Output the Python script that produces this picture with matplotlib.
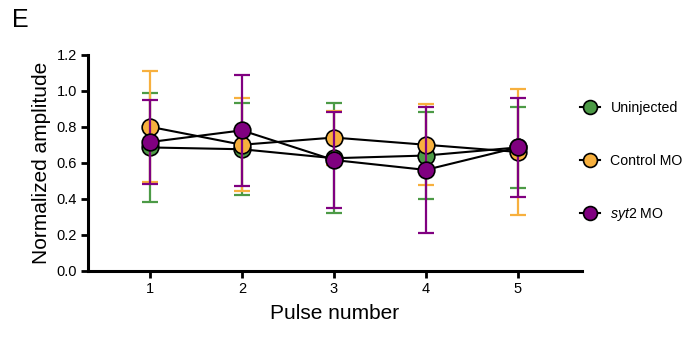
import matplotlib
matplotlib.use("Agg")
import matplotlib.pyplot as plt
from matplotlib.lines import Line2D
import numpy as np

plt.rcParams["font.family"] = ["Liberation Sans", "DejaVu Sans"]
plt.rcParams["mathtext.fontset"] = "custom"
plt.rcParams["mathtext.it"] = "Liberation Sans:italic"
plt.rcParams["mathtext.rm"] = "Liberation Sans"

pulses = [1, 2, 3, 4, 5]
groups = ["Uninjected", "Control MO", r"$\it{syt2}$ MO"]
colors = ["#4c9a46", "#f7b03e", "#800080"]

uninjected_mean = [0.685, 0.675, 0.625, 0.64, 0.685]
uninjected_sd = [0.305, 0.255, 0.305, 0.24, 0.225]
control_mean = [0.80, 0.70, 0.74, 0.70, 0.66]
control_sd = [0.31, 0.26, 0.15, 0.225, 0.35]
syt2_mean = [0.715, 0.78, 0.615, 0.56, 0.685]
syt2_sd = [0.235, 0.31, 0.265, 0.35, 0.275]

means = [uninjected_mean, control_mean, syt2_mean]
sds = [uninjected_sd, control_sd, syt2_sd]

fig = plt.figure(figsize=(6.92, 3.39), dpi=100)
ax = fig.add_axes([0.1272, 0.202, 0.7138, 0.636])

for m in means:
    ax.plot(pulses, m, color="black", lw=1.5, zorder=2)

for i, (m, s, c) in enumerate(zip(means, sds, colors)):
    ax.errorbar(pulses, m, yerr=s, fmt="none", ecolor=c, elinewidth=1.6,
                capsize=6, capthick=1.6, zorder=3 + 2 * i)
    ax.plot(pulses, m, "o", ms=12, mfc=c, mec="black", mew=1.2,
            linestyle="none", zorder=4 + 2 * i)

ax.set_xlim(0.326, 5.70)
ax.set_ylim(0, 1.2)
ax.set_xticks(pulses)
ax.set_yticks(np.arange(0, 1.21, 0.2))
ax.set_yticklabels([f"{v:.1f}" for v in np.arange(0, 1.21, 0.2)])
ax.spines["top"].set_visible(False)
ax.spines["right"].set_visible(False)
for sp in ["left", "bottom"]:
    ax.spines[sp].set_linewidth(2.2)
ax.tick_params(width=2, length=5, labelsize=10.5, pad=3)
ax.set_xlabel("Pulse number", fontsize=15, labelpad=6)
ax.set_ylabel("Normalized amplitude", fontsize=15, labelpad=4)

handles = [Line2D([0], [0], color="black", lw=1.5, marker="o", ms=10,
                  mfc=c, mec="black", mew=1.2) for c in colors]
fig.legend(handles, groups, loc="center left",
           bbox_to_anchor=(570 / 692, 1 - 162 / 339), frameon=False,
           fontsize=10.2, labelspacing=2.7, handlelength=1.4,
           handletextpad=0.75, borderpad=0.2)

fig.text(12 / 692, 1 - 20 / 339, "E", fontsize=18, va="center", ha="left")

fig.savefig("out.png", dpi=100)
